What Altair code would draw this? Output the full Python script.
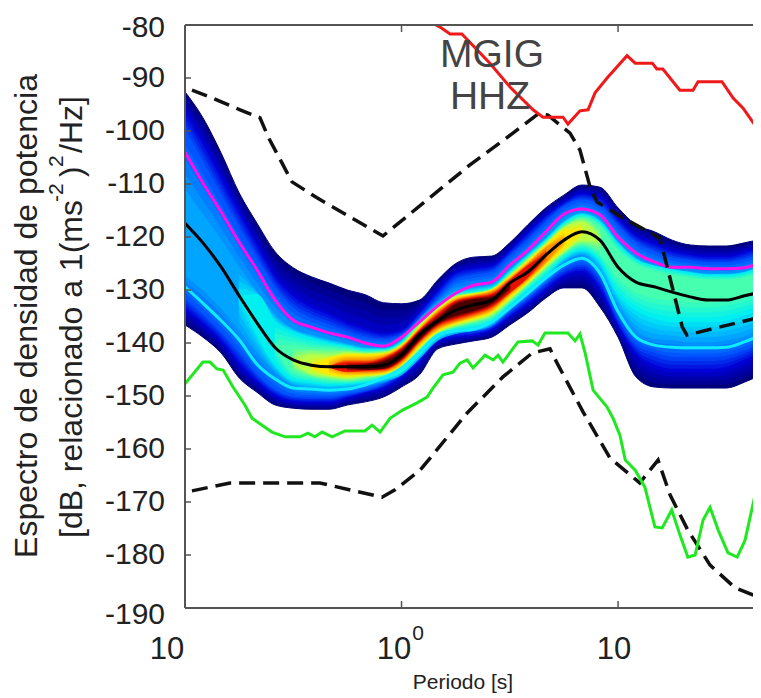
import altair as alt
import pandas as pd

FONT = "Liberation Sans"

periods = [0.1,0.121,0.147,0.178,0.215,0.261,0.316,0.383,0.464,0.562,0.681,0.825,1,1.21,1.47,1.78,2.15,2.61,3.16,3.83,4.64,5.62,6.81,8.25,10,12.1,14.7,17.8,21.5,26.1,31.6,38.3,45.7]

a_top = [-92.6,-97.5,-104.2,-111.7,-117.4,-122.8,-125.8,-127.5,-128.7,-130.0,-130.9,-132.4,-132.6,-131.9,-128.1,-125.0,-123.8,-123.6,-121.1,-117.7,-114.5,-112.1,-110.2,-110.6,-114.5,-117.7,-119.0,-120.6,-121.5,-121.7,-121.7,-121.1,-120.4]
a_bot = [-136.6,-138.9,-141.9,-146.6,-149.3,-151.7,-152.3,-152.5,-152.5,-151.7,-151.1,-150.2,-148.3,-146.0,-141.1,-140.2,-139.6,-138.9,-136.6,-134.3,-131.5,-129.6,-129.6,-133.2,-138.9,-146.4,-148.3,-148.5,-148.5,-148.5,-148.5,-147.4,-146.0]
b_top = [-96.0,-101.7,-108.3,-114.9,-121.1,-127.2,-130.6,-132.8,-134.3,-136.0,-137.2,-138.1,-137.5,-134.1,-130.0,-126.6,-125.8,-125.3,-122.5,-119.0,-115.8,-113.4,-111.7,-112.4,-116.4,-119.6,-121.1,-122.5,-123.2,-123.6,-123.6,-122.8,-121.7]
b_bot = [-133.8,-136.6,-139.8,-144.2,-147.4,-150.0,-151.1,-151.3,-151.3,-150.4,-149.4,-148.5,-146.6,-143.6,-139.8,-138.9,-138.5,-137.5,-135.1,-132.8,-130.0,-127.5,-126.6,-130.0,-136.8,-142.3,-144.7,-145.5,-145.5,-145.5,-145.1,-143.6,-142.3]
c_top = [-99.8,-105.8,-112.1,-118.3,-124.0,-129.6,-133.4,-135.3,-136.6,-137.9,-138.9,-139.4,-138.5,-135.3,-131.5,-128.1,-127.2,-126.6,-123.6,-120.6,-117.2,-114.3,-113.0,-114.0,-117.9,-121.1,-122.8,-124.0,-124.5,-124.9,-124.9,-124.3,-123.2]
c_bot = [-131.5,-134.5,-137.9,-141.7,-145.8,-148.7,-150.0,-150.2,-150.2,-149.6,-148.9,-147.7,-145.5,-142.6,-138.9,-137.9,-137.7,-136.8,-134.1,-131.5,-128.7,-126.2,-125.1,-127.9,-135.3,-140.2,-141.7,-142.5,-142.6,-142.6,-142.3,-141.3,-140.0]
d_top = [-111.1,-115.8,-120.6,-125.8,-130.4,-134.7,-137.4,-138.5,-139.4,-140.2,-140.9,-141.0,-139.5,-135.6,-132.5,-130.2,-129.6,-129.0,-126.2,-123.2,-120.2,-117.0,-115.5,-116.8,-121.0,-124.0,-125.5,-126.2,-126.6,-127.0,-127.0,-126.6,-125.5]
d_bot = [-127.2,-130.0,-133.4,-137.5,-141.7,-145.5,-147.9,-148.5,-148.7,-148.5,-147.9,-147.2,-146.0,-142.9,-139.5,-138.2,-137.6,-136.6,-133.4,-130.8,-127.9,-124.7,-123.3,-126.2,-132.8,-137.5,-139.1,-139.4,-139.8,-139.8,-139.4,-138.7,-137.2]
e_top = [-131.1,-130.9,-136.0,-137.9,-139.1,-140.0,-140.6,-141.3,-141.3,-139.8,-136.0,-133.0,-130.7,-130.2,-129.6,-126.6,-123.6,-120.6,-117.4,-115.8,-117.2,-121.3,-124.3,-125.5,-126.2,-126.8,-127.2,-127.2,-126.8,-125.7]
e_bot = [-131.1,-138.5,-144.2,-147.0,-147.5,-147.9,-147.7,-147.4,-146.8,-145.5,-142.3,-138.9,-137.5,-137.0,-136.0,-132.8,-130.0,-127.2,-124.0,-122.5,-124.7,-130.9,-133.8,-135.3,-136.0,-136.0,-136.0,-135.7,-134.7,-133.8]
f_top = [-140.4,-140.4,-140.9,-141.0,-141.3,-141.7,-141.5,-140.2,-136.4,-133.4,-131.1,-130.6,-129.8,-127.0,-124.0,-121.0,-117.9,-116.4,-117.9,-122.5,-125.1,-126.4,-127.2,-127.7,-128.1,-128.1,-127.7,-126.8]
f_bot = [-140.4,-145.5,-146.4,-147.0,-147.2,-146.8,-146.2,-144.9,-141.5,-138.3,-137.0,-136.2,-135.1,-132.3,-129.2,-126.2,-123.2,-121.5,-123.2,-127.7,-130.4,-131.5,-131.9,-132.3,-132.3,-131.9,-131.3,-130.4]
g_top = [-143.6,-142.3,-142.5,-141.9,-142.1,-141.9,-140.4,-136.8,-133.6,-131.3,-130.7,-130.0,-127.4,-124.3,-121.3,-118.3,-117.2,-120.6]
g_bot = [-143.6,-145.7,-146.2,-146.6,-146.2,-145.8,-144.5,-140.9,-137.9,-136.6,-135.7,-134.5,-131.7,-128.7,-125.5,-122.7,-120.6,-120.6]
h_top = [-144.5,-143.0,-142.3,-142.3,-142.1,-140.4,-137.0,-133.8,-131.5,-130.9,-130.0,-127.5,-124.7,-121.7,-118.9,-118.7]
h_bot = [-144.5,-145.8,-146.2,-146.0,-145.7,-144.2,-140.6,-137.7,-136.2,-135.3,-134.1,-131.3,-128.4,-125.1,-122.1,-118.7]
i_top = [-144.5,-143.2,-143.2,-142.6,-140.8,-137.4,-134.1,-131.9,-131.1,-130.4,-127.9,-125.1,-122.1,-120.6]
i_bot = [-144.5,-145.5,-145.5,-145.3,-143.6,-140.0,-137.2,-135.9,-134.9,-133.6,-130.7,-127.9,-124.7,-120.6]
j_top = [-144.5,-143.8,-143.8,-143.0,-141.1,-137.7,-134.7,-132.2,-131.5,-130.9,-128.3,-125.5,-123.4]
j_bot = [-144.5,-145.3,-145.1,-144.9,-143.2,-139.6,-136.6,-135.3,-134.3,-133.0,-130.4,-127.5,-123.4]
k_top = [-144.5,-144.2,-143.6,-141.7,-138.1,-135.6,-132.8,-131.9,-131.5,-129.4]
k_bot = [-144.5,-144.9,-144.7,-142.8,-139.2,-136.2,-134.7,-133.8,-132.4,-129.4]

magenta = [-104.0,-109.8,-115.3,-121.0,-126.2,-131.9,-135.7,-137.0,-138.1,-138.9,-140.0,-140.6,-138.9,-136.0,-133.0,-130.6,-129.1,-128.5,-125.3,-122.5,-119.0,-115.7,-114.7,-115.8,-120.0,-123.0,-124.7,-125.7,-125.7,-126.0,-126.0,-125.8,-124.7]
median = [-117.4,-121.1,-125.7,-131.1,-136.2,-140.9,-143.2,-144.2,-144.5,-144.5,-144.5,-144.2,-142.3,-138.5,-135.8,-133.8,-132.8,-131.9,-128.7,-126.6,-123.4,-120.6,-119.0,-120.6,-125.7,-128.5,-129.4,-130.4,-131.3,-131.9,-131.9,-131.1,-130.4]
cyan = [-129.4,-132.5,-135.8,-139.4,-144.0,-146.8,-148.5,-148.7,-148.9,-148.7,-147.9,-146.6,-144.7,-141.7,-138.5,-137.7,-137.4,-136.0,-133.4,-130.6,-127.7,-125.3,-124.0,-126.8,-134.1,-138.9,-140.4,-140.8,-140.9,-140.9,-140.8,-139.8,-138.5]

red_p = [1.44,1.506,1.675,1.90,2.56,3.17,4.05,4.50,5.57,5.87,6.67,7.27,7.83,8.90,11.0,12.0,14.4,15.1,16.1,19.3,22.2,23.4,30.2,34.0,37.8,42.9,45.7]
red_v = [-80.0,-80.4,-81.7,-81.7,-87.2,-91.7,-96.0,-97.4,-97.4,-98.7,-96.2,-96.0,-92.8,-90.0,-85.8,-87.2,-87.2,-88.3,-88.3,-92.3,-92.3,-90.7,-90.7,-93.8,-95.7,-98.9,-98.9]

green_p = [0.1,0.121,0.1305,0.1405,0.150,0.1666,0.189,0.204,0.227,0.252,0.290,0.340,0.370,0.398,0.430,0.478,0.548,0.678,0.731,0.796,0.885,1.016,1.180,1.312,1.398,1.555,1.730,1.862,2.01,2.14,2.43,2.65,2.79,2.94,3.45,4.01,4.27,4.60,5.87,6.33,6.67,7.05,7.67,8.90,9.48,10.2,10.8,12.0,13.3,14.8,16.0,17.7,19.3,21.0,22.7,24.7,26.6,29.0,32.2,35.5,38.6,42.9,45.7]
green_v = [-147.7,-143.6,-143.6,-144.9,-145.1,-148.3,-151.7,-154.2,-155.5,-156.8,-157.7,-157.7,-157.0,-157.7,-156.8,-157.7,-156.6,-156.6,-155.5,-156.8,-154.2,-152.6,-151.3,-150.2,-148.5,-146.0,-145.5,-143.8,-143.2,-144.7,-142.3,-143.2,-142.3,-143.6,-139.8,-139.6,-140.4,-138.1,-138.1,-139.6,-138.3,-141.9,-148.9,-152.1,-154.2,-157.4,-162.1,-164.0,-167.2,-174.7,-174.9,-171.5,-176.2,-180.4,-180.0,-173.4,-171.0,-175.3,-179.6,-180.4,-177.2,-168.7,-160.2]

high_p = [0.1077,0.1305,0.1796,0.222,0.242,0.312,0.407,0.821,2.07,3.27,4.27,4.75,6.0,6.67,7.43,8.0,10.55,15.6,17.0,19.8,20.8,45.7]
high_v = [-92.3,-93.6,-96.0,-97.5,-101.1,-109.6,-112.6,-119.8,-106.4,-100.4,-96.8,-97.0,-100.4,-103.6,-110.6,-113.4,-116.4,-120.2,-126.2,-137.0,-138.5,-135.1]

low_p = [0.1077,0.1614,0.420,0.813,0.933,1.218,2.01,2.94,4.01,4.85,5.23,6.89,9.18,12.6,15.3,17.4,21.0,26.6,34.7,44.3]
low_v = [-167.9,-166.4,-166.4,-169.1,-167.7,-164.0,-153.2,-146.4,-141.9,-141.1,-143.8,-153.0,-161.7,-166.4,-162.1,-168.7,-175.3,-181.9,-186.2,-187.9]

levels = [
    (0, a_top, a_bot, (0, 0, 125)),
    (0, b_top, b_bot, (0, 0, 215)),
    (0, c_top, c_bot, (0, 85, 255)),
    (0, d_top, d_bot, (0, 165, 255)),
    (3, e_top, e_bot, (0, 240, 240)),
    (5, f_top, f_bot, (70, 255, 175)),
    (6, g_top, g_bot, (185, 255, 70)),
    (7, h_top, h_bot, (255, 232, 0)),
    (8, i_top, i_bot, (255, 145, 0)),
    (8, j_top, j_bot, (232, 16, 0)),
    (9, k_top, k_bot, (72, 0, 0)),
]

yticks = [-90,-100,-110,-120,-130,-140,-150,-160,-170,-180]
xticks = [1, 10]
XMAX = 42.0
W, H = 568, 583

xs = alt.Scale(type="log", base=10, domain=[0.1, XMAX], range=[0, W])
ys = alt.Scale(domain=[-190, -80], range=[H, 0])
Xn = alt.X("p:Q", scale=xs, axis=None)
Yn = alt.Y("v:Q", scale=ys, axis=None)

def hexc(c):
    return "#%02x%02x%02x" % tuple(int(round(a)) for a in c)

layers = []
STEPS = 4

def band(start, top, bot, color):
    df = pd.DataFrame({"p": periods[start:start + len(top)], "v": top, "v2": bot})
    return alt.Chart(df).mark_area(interpolate="monotone", color=hexc(color), stroke=hexc(color), strokeWidth=1, clip=True).encode(x=Xn, y=Yn, y2="v2:Q")

# the density field, outer contour to inner, with blended shades between contours
for n, (start, top, bot, col) in enumerate(levels):
    layers.append(band(start, top, bot, col))
    if n + 1 < len(levels):
        s2, t2, b2, c2 = levels[n + 1]
        off = s2 - start
        for i in range(1, STEPS):
            w = i / STEPS
            tt = [(1 - w) * top[off + j] + w * t2[j] for j in range(len(t2))]
            bb = [(1 - w) * bot[off + j] + w * b2[j] for j in range(len(b2))]
            cc = [(1 - w) * a + w * b for a, b in zip(col, c2)]
            layers.append(band(s2, tt, bb, cc))

def line(p, v, color, width, dash=None, interp="linear"):
    kw = {"color": color, "strokeWidth": width, "clip": True, "interpolate": interp}
    if dash:
        kw["strokeDash"] = dash
    return alt.Chart(pd.DataFrame({"p": p, "v": v})).mark_line(**kw).encode(x=Xn, y=Yn)

layers.append(line(periods, magenta, "#ff10e8", 3, interp="monotone"))
layers.append(line(periods, cyan, "#10ecff", 3, interp="monotone"))
layers.append(line(periods, median, "#000000", 3, interp="monotone"))
layers.append(line(high_p, high_v, "#111111", 3.5, [16, 8]))
layers.append(line(low_p, low_v, "#111111", 3.5, [16, 8]))
layers.append(line(green_p, green_v, "#20e820", 3))
layers.append(line(red_p, red_v, "#f01818", 3))

# frame: left, top, bottom
GRAY = "#555555"
layers.append(alt.Chart(pd.DataFrame({"v": [-80]})).mark_rule(color=GRAY, strokeWidth=2).encode(y=Yn, x=alt.value(0), x2=alt.value(W)))
layers.append(alt.Chart(pd.DataFrame({"v": [-190]})).mark_rule(color=GRAY, strokeWidth=2).encode(y=Yn, x=alt.value(0), x2=alt.value(W)))
layers.append(alt.Chart(pd.DataFrame({"p": [0.1]})).mark_rule(color=GRAY, strokeWidth=2).encode(x=Xn, y=alt.value(0), y2=alt.value(H)))

# inward ticks
layers.append(alt.Chart(pd.DataFrame({"v": yticks})).mark_rule(color=GRAY, strokeWidth=1.5).encode(y=Yn, x=alt.value(0), x2=alt.value(6)))
layers.append(alt.Chart(pd.DataFrame({"p": xticks})).mark_rule(color=GRAY, strokeWidth=1.5).encode(x=Xn, y=alt.value(0), y2=alt.value(7)))
layers.append(alt.Chart(pd.DataFrame({"p": xticks})).mark_rule(color=GRAY, strokeWidth=1.5).encode(x=Xn, y=alt.value(H - 7), y2=alt.value(H)))

# y tick labels
layers.append(alt.Chart(pd.DataFrame({"v": yticks, "t": [str(v) for v in yticks]})).mark_text(font=FONT, fontSize=30, color="#222222", align="right", baseline="middle")
              .encode(y=Yn, x=alt.value(-20), text="t:N"))
layers.append(alt.Chart(pd.DataFrame({"v": [-80], "t": ["-80"]})).mark_text(font=FONT, fontSize=30, color="#222222", align="right", baseline="middle", dy=3)
              .encode(y=Yn, x=alt.value(-20), text="t:N"))
layers.append(alt.Chart(pd.DataFrame({"v": [-190], "t": ["-190"]})).mark_text(font=FONT, fontSize=30, color="#222222", align="right", baseline="middle", dy=7)
              .encode(y=Yn, x=alt.value(-20), text="t:N"))

def text(s, x, y, size, color="#222222", angle=0, align="center", baseline="middle"):
    return alt.Chart(pd.DataFrame({"t": [s]})).mark_text(font=FONT, fontSize=size, color=color, angle=angle,
            align=align, baseline=baseline).encode(text="t:N", x=alt.value(x), y=alt.value(y))

# x tick labels
layers.append(text("10", -18, 625, 31))
layers.append(text("10", 209, 625, 31))
layers.append(text("0", 233, 609, 21))
layers.append(text("10", 429, 625, 31))
layers.append(text("Periodo [s]", 278, 658, 21))

# station label
layers.append(text("MGIG", 307, 30, 39, color="#444444"))
layers.append(text("HHZ", 305, 72, 39, color="#444444"))

# y title
layers.append(text("Espectro de densidad de potencia", -148, 291, 32, angle=270, baseline="alphabetic"))
layers.append(text("[dB, relacionado a 1(ms", -103, 513, 32, angle=270, align="left", baseline="alphabetic"))
layers.append(text("-2", -122, 177, 21, angle=270, align="left", baseline="alphabetic"))
layers.append(text(")", -103, 152, 31, angle=270, align="left", baseline="alphabetic"))
layers.append(text("2", -122, 142, 21, angle=270, align="left", baseline="alphabetic"))
layers.append(text("/Hz]", -103, 128, 32, angle=270, align="left", baseline="alphabetic"))

chart = alt.layer(*layers).properties(
    width=W, height=H,
    autosize=alt.AutoSizeParams(type="none"),
    padding={"left": 177, "top": 17, "right": 0, "bottom": 88},
    background="white",
).configure_view(stroke=None)

chart.save("out.html", embed_options={"renderer": "svg", "actions": False})
